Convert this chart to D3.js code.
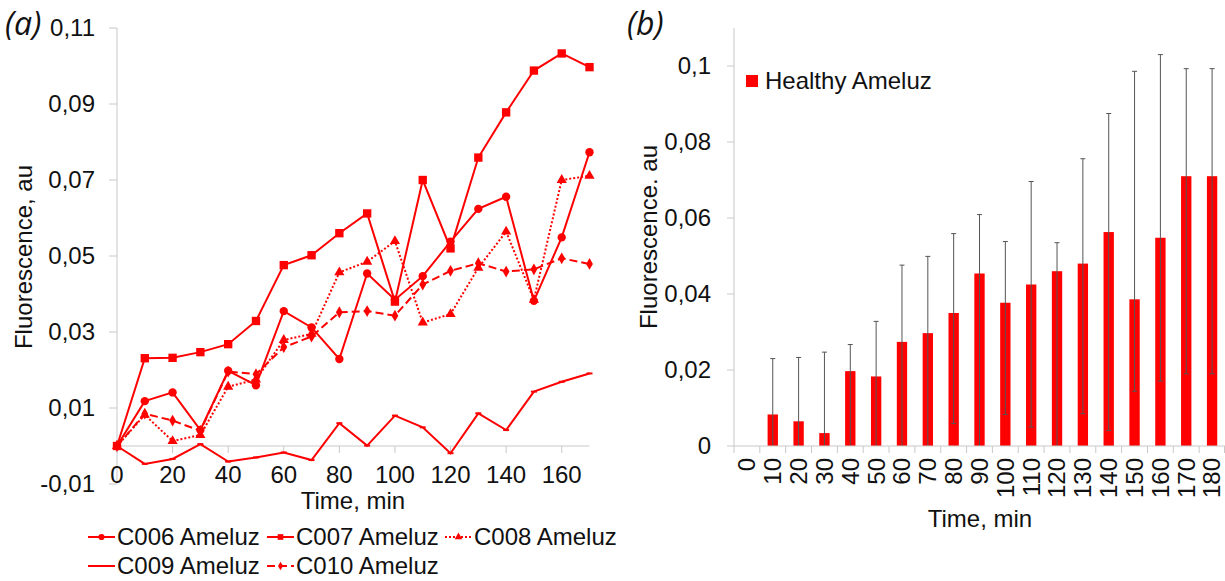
<!DOCTYPE html>
<html>
<head>
<meta charset="utf-8">
<script src="https://cdn.jsdelivr.net/npm/d3@7"></script>
<style>
  body { margin: 0; background: #fff; }
  text { font-family: "Liberation Sans", Arial, sans-serif; fill: #111; }
</style>
</head>
<body>
<svg id="chart" width="1225" height="581"></svg>
<script>
// ---- panel (a) data: fluorescence per patient over time
const times = [0, 10, 20, 30, 40, 50, 60, 70, 80, 90, 100, 110, 120, 130, 140, 150, 160, 170];
const c006 = [0, 0.0118, 0.0141, 0.0042, 0.0198, 0.0160, 0.0355, 0.0312, 0.0229, 0.0454, 0.0385, 0.0447, 0.0538, 0.0624, 0.0656, 0.0382, 0.0549, 0.0773];
const c007 = [0, 0.0231, 0.0232, 0.0247, 0.0268, 0.0329, 0.0476, 0.0502, 0.0560, 0.0612, 0.0380, 0.0700, 0.0520, 0.0759, 0.0878, 0.0988, 0.1033, 0.0997];
const c008 = [0, 0.0082, 0.0013, 0.0029, 0.0156, 0.0175, 0.0279, 0.0295, 0.0457, 0.0485, 0.0539, 0.0325, 0.0347, 0.0469, 0.0564, 0.0385, 0.0700, 0.0711];
const c009 = [0, -0.0047, -0.0034, 0.0005, -0.0041, -0.0030, -0.0017, -0.0037, 0.0060, 0.0001, 0.0080, 0.0049, -0.0019, 0.0086, 0.0042, 0.0143, 0.0169, 0.0191];
const c010 = [0, 0.0085, 0.0067, 0.0040, 0.0196, 0.0189, 0.0260, 0.0288, 0.0352, 0.0355, 0.0343, 0.0425, 0.0461, 0.0481, 0.0459, 0.0465, 0.0494, 0.0479];
const yTicksA = [-0.01, 0.01, 0.03, 0.05, 0.07, 0.09, 0.11];
const xTicksA = [0, 20, 40, 60, 80, 100, 120, 140, 160];

// ---- panel (b) data: healthy Ameluz bars with range bars
const barTimes = [0, 10, 20, 30, 40, 50, 60, 70, 80, 90, 100, 110, 120, 130, 140, 150, 160, 170, 180];
const barValue = [0, 0.0083, 0.0065, 0.0034, 0.0197, 0.0183, 0.0274, 0.0297, 0.0350, 0.0454, 0.0377, 0.0425, 0.0460, 0.0480, 0.0563, 0.0386, 0.0548, 0.0710, 0.0710];
const barHigh = [0, 0.0230, 0.0233, 0.0247, 0.0267, 0.0328, 0.0476, 0.0499, 0.0559, 0.0609, 0.0538, 0.0696, 0.0535, 0.0756, 0.0875, 0.0986, 0.1030, 0.0993, 0.0993];
const barLow = [0, 0, 0, 0, 0, 0, 0, 0, 0.0059, 0, 0.0083, 0.0050, 0, 0.0085, 0.0041, 0.0144, 0.0171, 0.0190, 0.0190];
const yTicksB = [0, 0.02, 0.04, 0.06, 0.08, 0.1];

const RED = "#ff0000";
const AXIS = "#c8c8c8";

const locale = d3.formatLocale({ decimal: ",", thousands: ".", grouping: [3], currency: ["", ""], minus: "-" });
const fmtA = locale.format(".2f");
const fmtB = locale.format(".2~f");

const svg = d3.select("#chart");
svg.append("rect").attr("width", 1225).attr("height", 581).attr("fill", "#fff");

// ================= panel (a) =================
const xA = d3.scaleLinear().domain([0, 170]).range([117, 589.5]);
const yA = d3.scaleLinear().domain([-0.01, 0.11]).range([484, 28]);

const gA = svg.append("g");

// y axis line + ticks
gA.append("line")
    .attr("x1", xA(0)).attr("x2", xA(0))
    .attr("y1", yA(0.11)).attr("y2", yA(-0.01))
    .attr("stroke", AXIS);
gA.selectAll(".ytickA").data(yTicksA).enter().append("line")
    .attr("x1", xA(0) - 8).attr("x2", xA(0))
    .attr("y1", d => yA(d)).attr("y2", d => yA(d))
    .attr("stroke", AXIS);
gA.selectAll(".ylabA").data(yTicksA).enter().append("text")
    .attr("x", 95).attr("y", d => yA(d))
    .attr("dy", "0.35em")
    .attr("text-anchor", "end")
    .style("font-size", "24px")
    .text(d => fmtA(d));

// x axis at zero
gA.append("line")
    .attr("x1", xA(0)).attr("x2", xA(170))
    .attr("y1", yA(0)).attr("y2", yA(0))
    .attr("stroke", AXIS);
gA.selectAll(".xtickA").data(xTicksA).enter().append("line")
    .attr("x1", d => xA(d)).attr("x2", d => xA(d))
    .attr("y1", yA(0)).attr("y2", yA(0) + 7)
    .attr("stroke", AXIS);
gA.selectAll(".xlabA").data(xTicksA).enter().append("text")
    .attr("x", d => xA(d)).attr("y", 483)
    .attr("text-anchor", "middle")
    .style("font-size", "24px")
    .text(d => d);

gA.append("text")
    .attr("x", 353).attr("y", 509)
    .attr("text-anchor", "middle")
    .style("font-size", "24px")
    .text("Time, min");

gA.append("text")
    .attr("transform", "translate(32,257) rotate(-90)")
    .attr("text-anchor", "middle")
    .style("font-size", "24px")
    .text("Fluorescence, au");

svg.append("text")
    .attr("x", 5).attr("y", 35)
    .style("font-family", "'Open Sans', sans-serif")
    .style("font-style", "italic")
    .style("font-size", "32px")
    .text("(a)");

const seriesA = [
    { name: "C006 Ameluz", values: c006, dash: null, symbol: d3.symbolCircle, size: 55, legendSize: 30 },
    { name: "C007 Ameluz", values: c007, dash: null, symbol: d3.symbolSquare, size: 70, legendSize: 32 },
    { name: "C008 Ameluz", values: c008, dash: "2,2", symbol: d3.symbolTriangle, size: 45, legendSize: 25 },
    { name: "C009 Ameluz", values: c009, dash: null, symbol: null },
    { name: "C010 Ameluz", values: c010, dash: "8,4", symbol: d3.symbolDiamond, size: 40, legendSize: 22 }
];

const line = d3.line()
    .x((d, i) => xA(times[i]))
    .y(d => yA(d));

seriesA.forEach(s => {
    const g = gA.append("g");
    g.append("path")
        .attr("d", line(s.values))
        .attr("fill", "none")
        .attr("stroke", RED)
        .attr("stroke-width", 2)
        .attr("stroke-dasharray", s.dash);
    if (s.symbol) {
        g.selectAll("path.m").data(s.values).enter().append("path")
            .attr("class", "m")
            .attr("transform", (d, i) => `translate(${xA(times[i])},${yA(d)})`)
            .attr("d", d3.symbol().type(s.symbol).size(s.size))
            .attr("fill", RED);
    } else {
        // small dash markers
        g.selectAll("line.m").data(s.values).enter().append("line")
            .attr("class", "m")
            .attr("x1", (d, i) => xA(times[i]) - 3).attr("x2", (d, i) => xA(times[i]) + 3)
            .attr("y1", d => yA(d)).attr("y2", d => yA(d))
            .attr("stroke", RED).attr("stroke-width", 2);
    }
});

// legend for (a)
const legendPos = [
    { x: 88, y: 537 }, { x: 267, y: 537 }, { x: 445, y: 537 },
    { x: 88, y: 566 }, { x: 267, y: 566 }
];
seriesA.forEach((s, i) => {
    const p = legendPos[i];
    const lg = gA.append("g").attr("transform", `translate(${p.x},${p.y})`);
    lg.append("line")
        .attr("x1", 0).attr("x2", 27)
        .attr("stroke", RED).attr("stroke-width", 2)
        .attr("stroke-dasharray", s.dash);
    if (s.symbol) {
        lg.append("path")
            .attr("transform", "translate(13.5,0)")
            .attr("d", d3.symbol().type(s.symbol).size(s.legendSize))
            .attr("fill", RED);
    }
    lg.append("text")
        .attr("x", 29).attr("dy", "0.35em")
        .style("font-size", "24px")
        .text(s.name);
});

// ================= panel (b) =================
const xB = d3.scaleBand().domain(barTimes).range([734, 1225]).paddingInner(0.6).paddingOuter(0.3);
const yB = d3.scaleLinear().domain([0, 0.11]).range([446, 28]);
const gB = svg.append("g");

gB.append("line")
    .attr("x1", 734).attr("x2", 734)
    .attr("y1", yB(0.11)).attr("y2", yB(0))
    .attr("stroke", AXIS);
gB.selectAll(".ytickB").data(yTicksB).enter().append("line")
    .attr("x1", 727).attr("x2", 734)
    .attr("y1", d => yB(d)).attr("y2", d => yB(d))
    .attr("stroke", AXIS);
gB.selectAll(".ylabB").data(yTicksB).enter().append("text")
    .attr("x", 711).attr("y", d => yB(d))
    .attr("dy", "0.35em")
    .attr("text-anchor", "end")
    .style("font-size", "24px")
    .text(d => fmtB(d));

// bars
gB.selectAll(".bar").data(barTimes).enter().append("rect")
    .attr("x", d => xB(d))
    .attr("width", xB.bandwidth())
    .attr("y", (d, i) => yB(barValue[i]))
    .attr("height", (d, i) => yB(0) - yB(barValue[i]))
    .attr("fill", RED);

// range bars
const half = 2.5;
barTimes.forEach((t, i) => {
    if (barHigh[i] === 0 && barLow[i] === 0) return;
    const cx = xB(t) + xB.bandwidth() / 2;
    const eg = gB.append("g").attr("stroke", "#555").attr("stroke-width", 1);
    eg.append("line").attr("x1", cx).attr("x2", cx).attr("y1", yB(barLow[i])).attr("y2", yB(barHigh[i]));
    eg.append("line").attr("x1", cx - half).attr("x2", cx + half).attr("y1", yB(barHigh[i])).attr("y2", yB(barHigh[i]));
    if (barLow[i] > 0) {
        eg.append("line").attr("x1", cx - half).attr("x2", cx + half).attr("y1", yB(barLow[i])).attr("y2", yB(barLow[i]));
    }
});

// x axis with category separators
gB.append("line")
    .attr("x1", 734).attr("x2", 1225)
    .attr("y1", yB(0)).attr("y2", yB(0))
    .attr("stroke", AXIS);
const sepOffset = (xB.step() - xB.bandwidth()) / 2;
const seps = barTimes.map(t => xB(t) - sepOffset).concat([1224.5]);
gB.selectAll(".sep").data(seps).enter().append("line")
    .attr("x1", d => d).attr("x2", d => d)
    .attr("y1", yB(0)).attr("y2", yB(0) + 7)
    .attr("stroke", AXIS);
gB.selectAll(".xlabB").data(barTimes).enter().append("text")
    .attr("transform", d => `translate(${xB(d) + xB.bandwidth() / 2},458) rotate(-90)`)
    .attr("dy", "0.35em")
    .attr("text-anchor", "end")
    .style("font-size", "24px")
    .text(d => d);

gB.append("text")
    .attr("x", 980).attr("y", 527)
    .attr("text-anchor", "middle")
    .style("font-size", "24px")
    .text("Time, min");

gB.append("text")
    .attr("transform", "translate(657,237) rotate(-90)")
    .attr("text-anchor", "middle")
    .style("font-size", "24px")
    .text("Fluorescence. au");

// legend (b)
gB.append("rect")
    .attr("x", 746).attr("y", 75)
    .attr("width", 12).attr("height", 12)
    .attr("fill", RED);
gB.append("text")
    .attr("x", 765).attr("y", 81)
    .attr("dy", "0.35em")
    .style("font-size", "24px")
    .text("Healthy Ameluz");

svg.append("text")
    .attr("x", 627).attr("y", 35)
    .style("font-family", "'Open Sans', sans-serif")
    .style("font-style", "italic")
    .style("font-size", "32px")
    .text("(b)");
</script>
</body>
</html>
